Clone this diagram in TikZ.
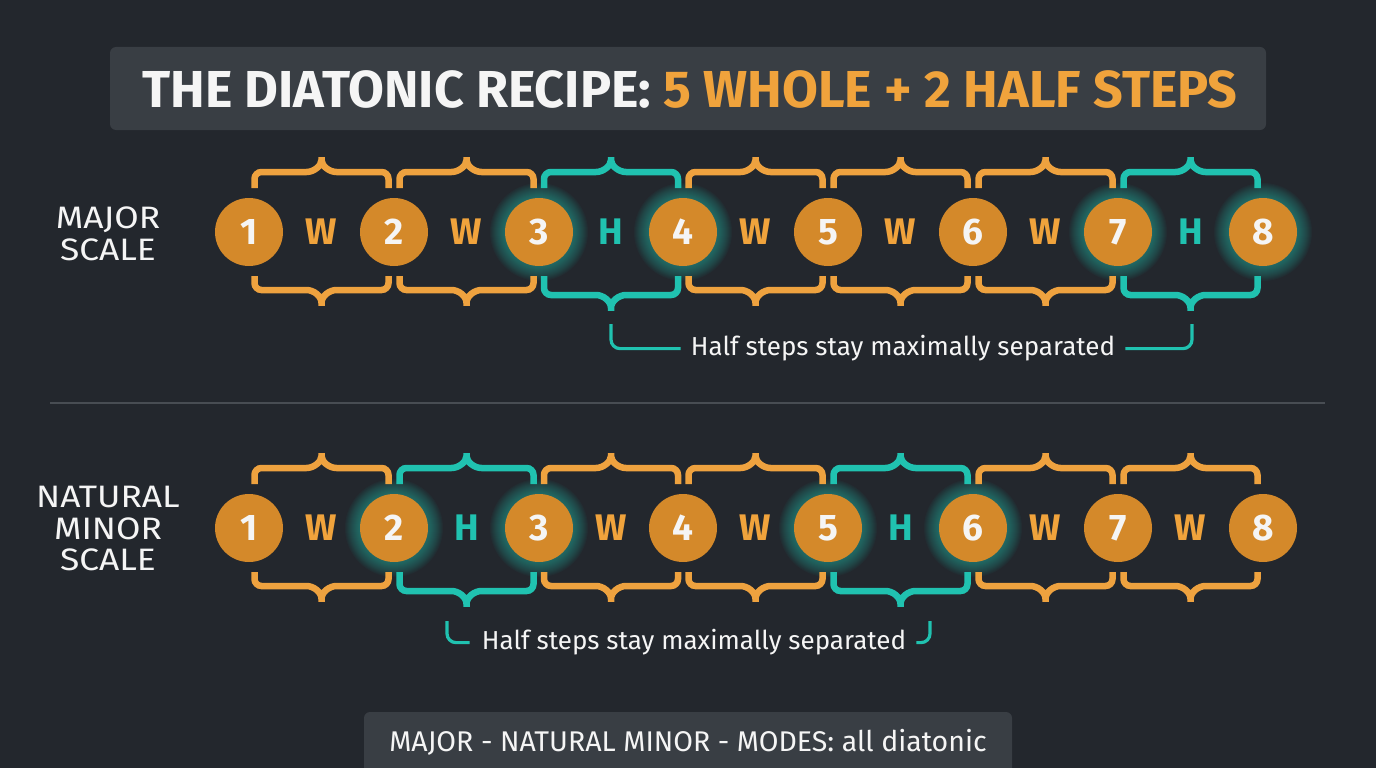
\documentclass[tikz,border=0pt]{standalone}
\usepackage{fontspec}
\setmainfont{Fira Sans}
\newfontfamily\widefont[FakeStretch=1.14]{Fira Sans}
\definecolor{bg}{HTML}{23272D}
\definecolor{boxc}{HTML}{393E44}
\definecolor{ortxt}{HTML}{F0A33C}
\definecolor{orbr}{HTML}{EEA23F}
\definecolor{circ}{HTML}{D4892A}
\definecolor{tl}{HTML}{20C2B0}
\definecolor{sepc}{HTML}{484D53}
\definecolor{wt}{HTML}{F5F5F5}
\tikzset{
  deg/.style={circle, fill=circ, text=wt, inner sep=0pt, minimum size=68pt,
    font=\fontsize{37}{40}\selectfont\bfseries},
  wlab/.style={text=ortxt, inner sep=0pt, font=\fontsize{37}{40}\selectfont\bfseries},
  hlab/.style={text=tl, inner sep=0pt, font=\fontsize{37}{40}\selectfont\bfseries},
  rowlab/.style={text=wt, align=center, inner sep=0pt, font=\widefont\fontsize{31}{31.5}\selectfont},
  note/.style={text=wt, inner sep=0pt, font=\fontsize{26}{28}\selectfont},
  conn/.style={draw=tl, line width=3.2pt, rounded corners=9pt},
  brline/.style={line width=6.5pt, rounded corners=7pt},
  topbr/.pic={\draw[brline] (-67,-44) -- (-67,-60) -- (-22,-60)
      .. controls (-8,-60) and (0,-66) .. (0,-79)
      .. controls (0,-66) and (8,-60) .. (22,-60) -- (67,-60) -- (67,-44);},
  botbr/.pic={\draw[brline] (-67,44) -- (-67,58) -- (-22,58)
      .. controls (-8,58) and (0,64) .. (0,78)
      .. controls (0,64) and (8,58) .. (22,58) -- (67,58) -- (67,44);},
  botbrh/.pic={\draw[brline] (-67,44) -- (-67,63) -- (-22,63)
      .. controls (-8,63) and (0,69) .. (0,83)
      .. controls (0,69) and (8,63) .. (22,63) -- (67,63) -- (67,44);},
}
\begin{document}
\begin{tikzpicture}[x=1pt,y=-1pt]
\useasboundingbox (0,0) rectangle (1376,768);
\fill[bg] (0,0) rectangle (1376,768);

% title
\fill[boxc, rounded corners=6pt] (110,47) rectangle (1266,130);
\node[inner sep=0pt, font=\fontsize{52}{56}\selectfont\bfseries] (title) at (690,89)
  {\color{wt}THE DIATONIC RECIPE: \color{ortxt}5 WHOLE + 2 HALF STEPS};

% separator
\draw[sepc, line width=1.6pt] (50,403) -- (1325,403);

% bottom box
\fill[boxc, rounded corners=6pt] (364,712) rectangle (1012,780);
\node[text=wt, inner sep=0pt, font=\fontsize{28.5}{30}\selectfont] (foot) at (688,742)
  {MAJOR - NATURAL MINOR - MODES: all diatonic};

% row labels
\node[rowlab] (lmaj) at (108,234) {MAJOR\\SCALE};
\node[rowlab] (lmin) at (108,529) {NATURAL\\MINOR\\SCALE};

% glows
\foreach \cx/\cy in {539/232,683/232,1118/232,1263/232,394/528,539/528,828/528,973/528}{
  \foreach \r in {35,...,49}{
    \fill[tl, opacity=0.038] (\cx,\cy) circle (\r pt);
  }
}

% brackets major
\foreach \m in {321.5,466.5,755.5,900.5,1045.5}{
  \pic[color=orbr] at (\m,232) {topbr};
  \pic[color=orbr] at (\m,232) {botbr};
}
\foreach \m in {611,1190.5}{
  \pic[color=tl] at (\m,232) {topbr};
  \pic[color=tl] at (\m,232) {botbrh};
}
% brackets minor
\foreach \m in {321.5,611,755.5,1045.5,1190.5}{
  \pic[color=orbr] at (\m,528) {topbr};
  \pic[color=orbr] at (\m,528) {botbr};
}
\foreach \m in {466.5,900.5}{
  \pic[color=tl] at (\m,528) {topbr};
  \pic[color=tl] at (\m,528) {botbrh};
}

% major row
\foreach \i/\x in {1/249,2/394,3/539,4/683,5/828,6/973,7/1118,8/1263}{
  \node[deg] (a\i) at (\x,232) {\i};
}
\foreach \i/\x/\s/\t in {1/321.5/wlab/W,2/466.5/wlab/W,3/611/hlab/H,4/755.5/wlab/W,5/900.5/wlab/W,6/1045.5/wlab/W,7/1190.5/hlab/H}{
  \node[\s] (ia\i) at (\x,232) {\t};
}
% minor row
\foreach \i/\x in {1/249,2/394,3/539,4/683,5/828,6/973,7/1118,8/1263}{
  \node[deg] (b\i) at (\x,528) {\i};
}
\foreach \i/\x/\s/\t in {1/321.5/wlab/W,2/466.5/hlab/H,3/611/wlab/W,4/755.5/wlab/W,5/900.5/hlab/H,6/1045.5/wlab/W,7/1190.5/wlab/W}{
  \node[\s] (ib\i) at (\x,528) {\t};
}

% notes and connectors
\node[note, anchor=base] (na) at (903,355) {Half steps stay maximally separated};
\coordinate (na1) at (611,324);
\coordinate (na2) at (1192,324);
\draw[conn] (na1) |- ([xshift=-10pt,yshift=-1pt]na.west);
\draw[conn] ([xshift=10pt,yshift=-1pt]na.east) -| (na2);

\node[note, anchor=base] (nb) at (694,649) {Half steps stay maximally separated};
\coordinate (nb1) at (447,621);
\coordinate (nb2) at (930,621);
\draw[conn] (nb1) |- ([xshift=-12pt,yshift=-1pt]nb.west);
\draw[conn] ([xshift=10pt,yshift=-1pt]nb.east) -| (nb2);
\end{tikzpicture}
\end{document}
